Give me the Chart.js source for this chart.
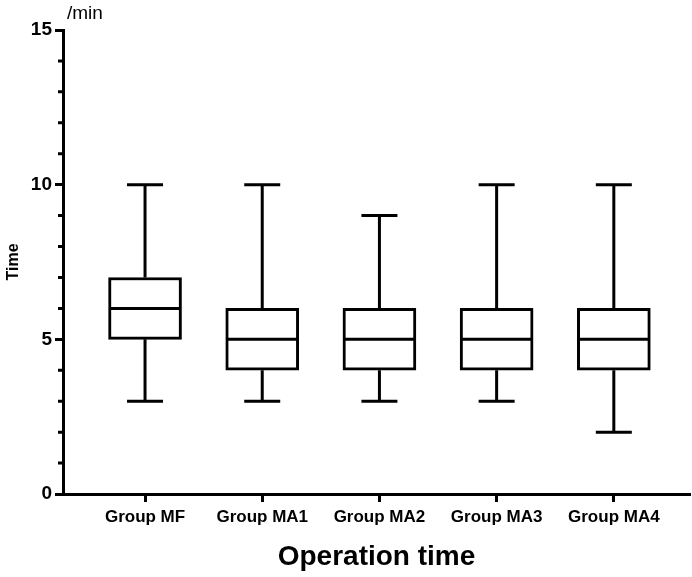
<!DOCTYPE html>
<html>
<head>
<meta charset="utf-8">
<script src="https://cdn.jsdelivr.net/npm/chart.js@4"></script>
<style>
  html, body { margin: 0; padding: 0; background: #fff; }
  #wrap { width: 692px; height: 577px; }
</style>
</head>
<body>
<div id="wrap"><canvas id="box-chart"></canvas></div>
<script>
// box plot data (minutes)
const groups = ["Group MF", "Group MA1", "Group MA2", "Group MA3", "Group MA4"];
const mins    = [3, 3, 3, 3, 2];
const q1s     = [5, 4, 4, 4, 4];
const medians = [6, 5, 5, 5, 5];
const q3s     = [7, 6, 6, 6, 6];
const maxs    = [10, 10, 9, 10, 10];
const yTicks  = [0, 5, 10, 15];

const FONT = "'Liberation Sans', Arial, Helvetica, sans-serif";

// whiskers, caps, medians, minor ticks and the unit label
const boxExtras = {
  id: 'boxExtras',
  afterDatasetsDraw(chart) {
    const ctx = chart.ctx, x = chart.scales.x, y = chart.scales.y;
    ctx.save();
    ctx.strokeStyle = '#000';
    ctx.lineWidth = 3;
    ctx.lineCap = 'butt';
    groups.forEach(function(g, i) {
      const cx = x.getPixelForValue(i);
      const half = 35;  // half box width
      const cap = 18;
      ctx.beginPath();
      // upper whisker + cap
      ctx.moveTo(cx, y.getPixelForValue(q3s[i]));
      ctx.lineTo(cx, y.getPixelForValue(maxs[i]));
      ctx.moveTo(cx - cap, y.getPixelForValue(maxs[i]));
      ctx.lineTo(cx + cap, y.getPixelForValue(maxs[i]));
      // lower whisker + cap
      ctx.moveTo(cx, y.getPixelForValue(q1s[i]));
      ctx.lineTo(cx, y.getPixelForValue(mins[i]));
      ctx.moveTo(cx - cap, y.getPixelForValue(mins[i]));
      ctx.lineTo(cx + cap, y.getPixelForValue(mins[i]));
      // median
      ctx.moveTo(cx - half, y.getPixelForValue(medians[i]));
      ctx.lineTo(cx + half, y.getPixelForValue(medians[i]));
      ctx.stroke();
    });
    // minor ticks on y
    const ax = y.right;
    ctx.beginPath();
    for (let v = 0; v <= 15; v++) {
      if (v % 5 === 0) continue;
      const py = y.getPixelForValue(v);
      ctx.moveTo(ax - 5, py);
      ctx.lineTo(ax, py);
    }
    ctx.stroke();
    // unit
    ctx.fillStyle = '#000';
    ctx.font = '19px ' + FONT;
    ctx.textAlign = 'left';
    ctx.textBaseline = 'middle';
    ctx.fillText('/min', ax + 4, y.top - 16);
    ctx.restore();
  }
};

new Chart(document.getElementById('box-chart'), {
  type: 'bar',
  data: {
    datasets: [{
      data: groups.map(function(g, i) { return {x: i, y: [q1s[i], q3s[i]]}; }),
      backgroundColor: '#fff',
      borderColor: '#000',
      borderWidth: 3,
      borderSkipped: false,
      barThickness: 73
    }]
  },
  options: {
    responsive: true,
    maintainAspectRatio: false,
    animation: false,
    layout: { padding: { top: 30, right: 2, left: 0, bottom: 0 } },
    plugins: { legend: { display: false }, tooltip: { enabled: false } },
    scales: {
      x: {
        type: 'linear',
        offset: false,
        min: -0.7,
        max: 4.65,
        afterBuildTicks: function(s) { s.ticks = groups.map(function(g, i) { return {value: i}; }); },
        afterFit: function(s) { s.height = 83; },
        ticks: {
          autoSkip: false,
          maxRotation: 0,
          padding: 5,
          color: '#000',
          font: { family: FONT, size: 17, weight: 'bold' },
          callback: function(v) { return groups[v]; }
        },
        grid: { offset: false, drawOnChartArea: false, tickLength: 8, tickWidth: 3, tickColor: '#000' },
        border: { width: 3, color: '#000' },
        title: {
          display: true,
          text: 'Operation time',
          color: '#000',
          font: { family: FONT, size: 28, weight: 'bold', lineHeight: 1 },
          padding: { top: 0, bottom: 6 }
        }
      },
      y: {
        min: 0,
        max: 15,
        afterBuildTicks: function(s) { s.ticks = yTicks.map(function(v) { return {value: v}; }); },
        afterFit: function(s) { s.width = 63; },
        ticks: {
          padding: 3,
          color: '#000',
          font: { family: FONT, size: 19, weight: 'bold' }
        },
        grid: { drawOnChartArea: false, tickLength: 8, tickWidth: 3, tickColor: '#000' },
        border: { width: 3, color: '#000' },
        title: {
          display: true,
          text: 'Time',
          color: '#000',
          font: { family: FONT, size: 16, weight: 'bold', lineHeight: 1 },
          padding: { top: 6, bottom: 0 }
        }
      }
    }
  },
  plugins: [boxExtras]
});
</script>
</body>
</html>
